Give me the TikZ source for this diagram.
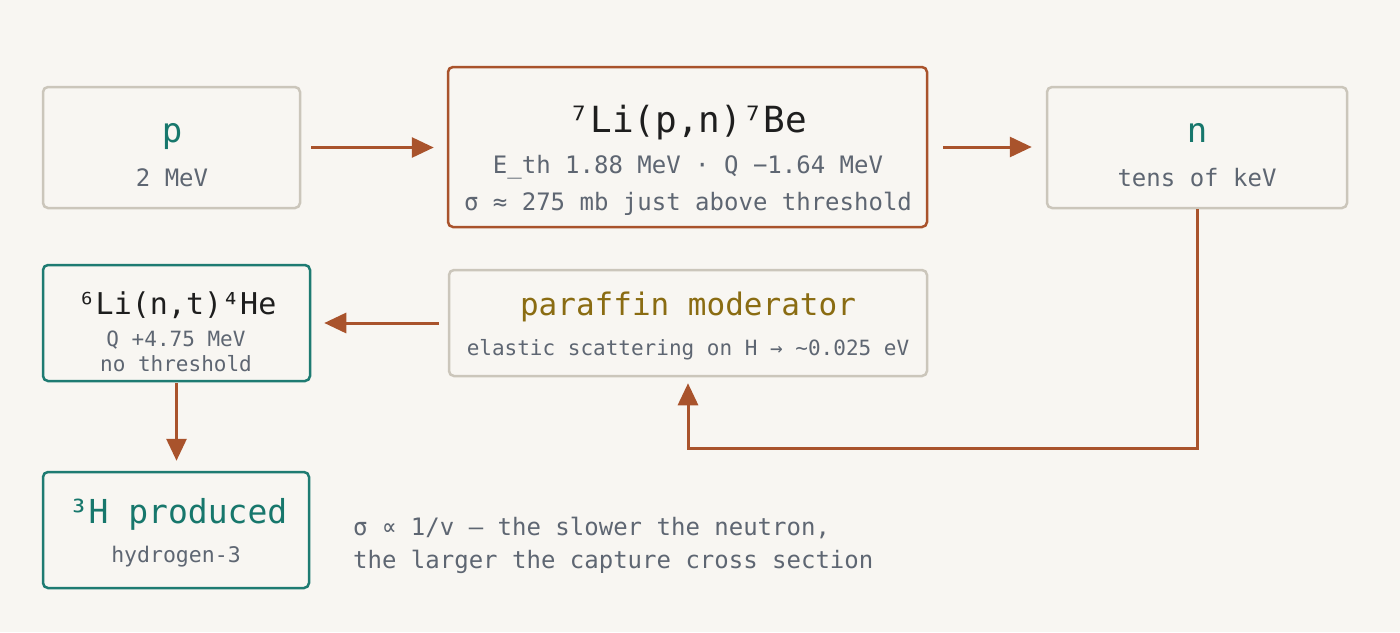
\documentclass[tikz,border=0pt]{standalone}
\usepackage{fontspec}
\setmainfont{DejaVu Sans Mono}
\usetikzlibrary{arrows.meta}
\definecolor{bg}{HTML}{F8F6F2}
\definecolor{grayline}{HTML}{CBC6BB}
\definecolor{brown}{HTML}{A9532C}
\definecolor{teal}{HTML}{1E7B72}
\definecolor{tealtxt}{HTML}{17776C}
\definecolor{dark}{HTML}{1E1E1E}
\definecolor{slate}{HTML}{5E6672}
\definecolor{olive}{HTML}{8A6C12}
\newcommand{\fsz}[1]{\fontsize{#1}{#1}\selectfont}
\begin{document}
\begin{tikzpicture}[x=1pt,y=-1pt,
  box/.style={draw, line width=2.5pt, rounded corners=5pt, fill=bg, inner sep=0pt},
  graybox/.style={box, draw=grayline},
  brownbox/.style={box, draw=brown},
  tealbox/.style={box, draw=teal},
  lbl/.style={anchor=base, inner sep=0pt},
  arr/.style={draw=brown, line width=3pt, -{Triangle[length=22pt,width=20pt]}}]
\fill[bg] (0,0) rectangle (1400,632);
\useasboundingbox (0,0) rectangle (1400,632);

% boxes
\node[graybox, minimum width=257pt, minimum height=121pt] (pbox) at (171.5,147.5) {};
\node[brownbox, minimum width=479pt, minimum height=160pt] (rbox) at (687.5,147) {};
\node[graybox, minimum width=300pt, minimum height=121pt] (nbox) at (1197,147.5) {};
\node[tealbox, minimum width=267pt, minimum height=116pt] (libox) at (176.5,323) {};
\node[graybox, minimum width=478pt, minimum height=106pt] (parbox) at (688,323) {};
\node[tealbox, minimum width=266pt, minimum height=116pt] (hbox) at (176,530) {};

% texts
\node[lbl, text=tealtxt] (ptitle) at (172,142) {\fsz{34}p};
\node[lbl, text=slate] (psub) at (172,186) {\fsz{24}2 MeV};

\node[lbl, text=dark] (rtitle) at (688,132) {\fsz{36}⁷Li(p,n)⁷Be};
\node[lbl, text=slate] (rsub1) at (688,173) {\fsz{24}E\_th 1.88 MeV · Q −1.64 MeV};
\node[lbl, text=slate] (rsub2) at (688,210) {\fsz{24}σ ≈ 275 mb just above threshold};

\node[lbl, text=tealtxt] (ntitle) at (1197,142) {\fsz{34}n};
\node[lbl, text=slate] (nsub) at (1197,186) {\fsz{24}tens of keV};

\node[lbl, text=dark] (lititle) at (177,314) {\fsz{30}⁶Li(n,t)⁴He};
\node[lbl, text=slate] (lisub1) at (176,346) {\fsz{21}Q +4.75 MeV};
\node[lbl, text=slate] (lisub2) at (176,371) {\fsz{21}no threshold};

\node[lbl, text=olive] (partitle) at (688,315) {\fsz{31}paraffin moderator};
\node[lbl, text=slate] (parsub) at (688,355) {\fsz{21}elastic scattering on H → \textasciitilde 0.025 eV};

\node[lbl, text=tealtxt] (htitle) at (178,523) {\fsz{33}³H produced};
\node[lbl, text=slate] (hsub) at (176,562) {\fsz{21.5}hydrogen-3};

\node[anchor=base west, inner sep=0pt, text=slate] (note1) at (353,535) {\fsz{24}σ ∝ 1/v — the slower the neutron,};
\node[anchor=base west, inner sep=0pt, text=slate] (note2) at (353,568) {\fsz{24}the larger the capture cross section};

% connectors
\draw[arr, shorten <=10pt, shorten >=13pt] (pbox.east) -- (rbox.west |- pbox.east);
\draw[arr, shorten <=15pt, shorten >=14pt] (rbox.east) -- (nbox.west |- rbox.east);
\draw[arr, shorten <=9pt, shorten >=13pt] (parbox.west) -- (libox.east);
\draw[arr, shorten <=1pt, shorten >=10pt] (libox.south) -- (libox.south |- hbox.north);
\coordinate (turn) at (1197,448);
\draw[arr, line join=miter, shorten >=6pt] (nbox.south) -- (turn) -| (parbox.south);
\end{tikzpicture}
\end{document}
